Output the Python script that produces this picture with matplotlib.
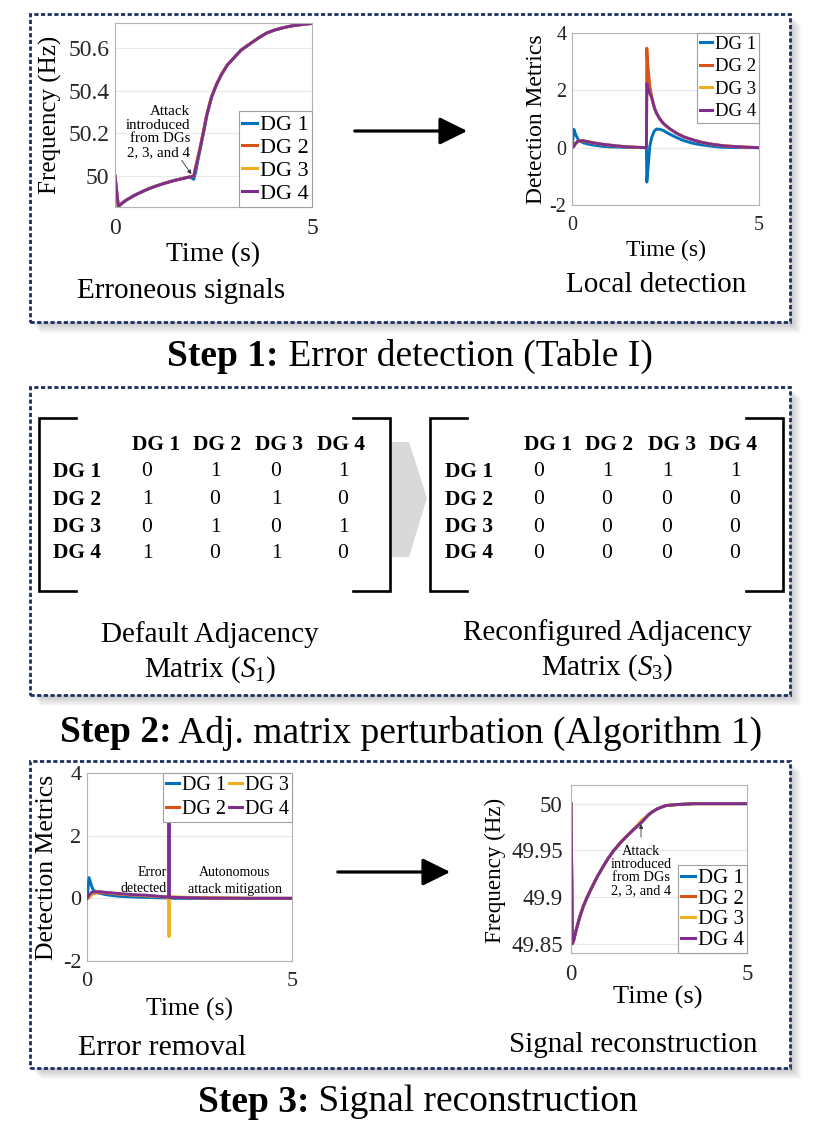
import matplotlib
matplotlib.use("Agg")
import matplotlib.pyplot as plt
from matplotlib.patches import Rectangle, Polygon, FancyArrowPatch
from matplotlib.lines import Line2D

plt.rcParams['font.family'] = ['Liberation Serif', 'DejaVu Serif']
plt.rcParams['mathtext.fontset'] = 'custom'
plt.rcParams['mathtext.rm'] = 'Liberation Serif'
plt.rcParams['mathtext.it'] = 'Liberation Serif:italic'
plt.rcParams['mathtext.bf'] = 'Liberation Serif:bold'

# ---------------- data ----------------
dg_labels = ['DG 1', 'DG 2', 'DG 3', 'DG 4']
dg_colors = ['#0072BD', '#D95319', '#EDB120', '#7E2F8E']

# Step 1 – erroneous frequency signals
t_freq1 = [0, 0.085, 0.12, 0.2, 0.3, 0.46, 0.6, 0.75, 0.89, 1.1, 1.31, 1.5, 1.73, 1.9, 2.0,
           2.05, 2.1, 2.16, 2.25, 2.33, 2.45, 2.58, 2.7, 2.85, 3.0, 3.2, 3.43, 3.65, 3.85,
           4.05, 4.27, 4.5, 4.75, 5.0]
freq1_dg4 = [50.0, 49.856, 49.863, 49.876, 49.889, 49.906, 49.919, 49.932, 49.943, 49.957, 49.969,
             49.979, 49.989, 49.996, 50.0, 50.04, 50.08, 50.13, 50.21, 50.286, 50.37, 50.43,
             50.475, 50.52, 50.55, 50.59, 50.62, 50.648, 50.67, 50.684, 50.695, 50.704, 50.71,
             50.715]
freq1_dg1 = [50.0, 49.856, 49.863, 49.876, 49.889, 49.906, 49.919, 49.932, 49.943, 49.957, 49.969,
             49.979, 49.989, 49.996, 49.985, 50.02, 50.07, 50.125, 50.205, 50.282, 50.368, 50.43,
             50.475, 50.52, 50.55, 50.59, 50.62, 50.648, 50.67, 50.684, 50.695, 50.704, 50.71,
             50.715]
freq1_dg2 = [50.0, 49.856, 49.863, 49.876, 49.889, 49.906, 49.919, 49.932, 49.943, 49.957, 49.969,
             49.979, 49.989, 49.996, 50.0, 50.045, 50.085, 50.135, 50.215, 50.29, 50.372, 50.432,
             50.476, 50.52, 50.55, 50.59, 50.62, 50.648, 50.67, 50.684, 50.695, 50.704, 50.71,
             50.716]
freq1_dg3 = list(freq1_dg2)

# Step 1 – local detection metrics
t_det1 = [0, 0.05, 0.1, 0.17, 0.3, 0.45, 0.57, 0.8, 1.0, 1.2, 1.46, 1.7, 1.99, 2.0, 2.02, 2.04,
          2.08, 2.13, 2.2, 2.26, 2.35, 2.44, 2.6, 2.8, 3.0, 3.24, 3.45, 3.69, 3.9, 4.1, 4.35,
          4.6, 5.0]
det1_dg1 = [0, 0.64, 0.45, 0.27, 0.17, 0.12, 0.09, 0.05, 0.03, 0.02, 0.01, 0.005, 0.0, -1.2, -0.9,
            -0.6, 0.05, 0.35, 0.58, 0.65, 0.64, 0.6, 0.48, 0.35, 0.24, 0.15, 0.1, 0.06, 0.03,
            0.01, 0.005, 0.0, 0.0]
det1_dg2 = [0, 0.05, 0.15, 0.24, 0.24, 0.2, 0.17, 0.12, 0.09, 0.06, 0.03, 0.015, 0.0, 3.47, 3.0,
            2.7, 2.15, 1.78, 1.4, 1.2, 1.0, 0.85, 0.67, 0.5, 0.37, 0.27, 0.19, 0.13, 0.09, 0.06,
            0.04, 0.02, 0.0]
det1_dg3 = [0, 0.05, 0.15, 0.24, 0.24, 0.2, 0.17, 0.12, 0.09, 0.06, 0.03, 0.015, 0.0, 2.24, 2.15,
            2.05, 1.9, 1.75, 1.4, 1.2, 1.0, 0.85, 0.67, 0.5, 0.37, 0.27, 0.19, 0.13, 0.09, 0.06,
            0.04, 0.02, 0.0]
det1_dg4 = list(det1_dg3)

# Step 2 – adjacency matrices
S1 = [[0, 1, 0, 1],
      [1, 0, 1, 0],
      [0, 1, 0, 1],
      [1, 0, 1, 0]]
S3 = [[0, 1, 1, 1],
      [0, 0, 0, 0],
      [0, 0, 0, 0],
      [0, 0, 0, 0]]

# Step 3 – error removal metrics
t_det3 = [0, 0.05, 0.11, 0.15, 0.22, 0.32, 0.45, 0.64, 0.8, 1.0, 1.2, 1.46, 1.7, 1.99, 2.0, 2.01,
          2.1, 2.5, 3.0, 3.5, 4.0, 5.0]
det3_dg1 = [0, 0.66, 0.4, 0.27, 0.2, 0.16, 0.12, 0.085, 0.065, 0.05, 0.04, 0.03, 0.02, 0.01, 0.01,
            0.01, 0.0, 0.0, 0.0, 0.0, 0.0, 0.0]
det3_dg2 = [0, 0.03, 0.12, 0.15, 0.17, 0.18, 0.17, 0.15, 0.13, 0.11, 0.1, 0.08, 0.06, 0.04, 0.04,
            0.04, 0.03, 0.02, 0.01, 0.005, 0.0, 0.0]
det3_dg3 = [0, 0.03, 0.1, 0.18, 0.2, 0.21, 0.19, 0.16, 0.14, 0.12, 0.1, 0.085, 0.06, 0.04, -1.22,
            0.05, 0.05, 0.03, 0.02, 0.01, 0.0, 0.0]
det3_dg4 = [0, 0.1, 0.19, 0.2, 0.21, 0.21, 0.19, 0.17, 0.15, 0.13, 0.11, 0.1, 0.07, 0.04, 3.6,
            0.03, 0.03, 0.02, 0.01, 0.005, 0.0, 0.0]

# Step 3 – reconstructed frequency
t_freq3 = [0, 0.04, 0.08, 0.11, 0.15, 0.2, 0.26, 0.35, 0.45, 0.55, 0.63, 0.75, 0.92, 1.05, 1.2,
           1.4, 1.58, 1.8, 2.0, 2.1, 2.2, 2.3, 2.43, 2.55, 2.7, 3.0, 3.5, 4.0, 5.0]
freq3_dg1 = [50.0, 49.85, 49.854, 49.859, 49.865, 49.872, 49.88, 49.89, 49.899, 49.907, 49.913,
             49.922, 49.933, 49.941, 49.949, 49.958, 49.965, 49.973, 49.98, 49.984, 49.988,
             49.991, 49.994, 49.996, 49.998, 49.999, 50.0, 50.0, 50.0]
freq3_dg2 = list(freq3_dg1)
freq3_dg3 = [50.0, 49.85, 49.854, 49.859, 49.865, 49.872, 49.88, 49.89, 49.899, 49.907, 49.913,
             49.922, 49.933, 49.941, 49.949, 49.958, 49.965, 49.973, 49.982, 49.985, 49.988,
             49.991, 49.994, 49.996, 49.998, 49.999, 50.0, 50.0, 50.0]
freq3_dg4 = list(freq3_dg1)

# ---------------- figure ----------------
W, H = 832, 1124
fig = plt.figure(figsize=(W / 100, H / 100), dpi=100)
fig.patch.set_facecolor('white')

def fx(x):
    return x / W

def fy(y):
    return 1 - y / H

def add_ax(x0, y0, x1, y1):
    return fig.add_axes([x0 / W, 1 - y1 / H, (x1 - x0) / W, (y1 - y0) / H])

NAVY = '#1b2f63'

def panel(x0, y0, x1, y1):
    for k in range(2, 12):
        fig.patches.append(Rectangle((fx(x0 + k), fy(y1 + k)), (x1 - x0) / W, (y1 - y0) / H,
                                     transform=fig.transFigure, facecolor='#7a7a7a',
                                     edgecolor='none', alpha=0.045, zorder=-6))
    fig.patches.append(Rectangle((fx(x0), fy(y1)), (x1 - x0) / W, (y1 - y0) / H,
                                 transform=fig.transFigure, facecolor='white',
                                 edgecolor='none', zorder=-5))
    fig.patches.append(Rectangle((fx(x0), fy(y1)), (x1 - x0) / W, (y1 - y0) / H,
                                 transform=fig.transFigure, facecolor='none',
                                 edgecolor=NAVY, lw=2.0, linestyle=(0, (1.5, 0.9)),
                                 capstyle='butt', zorder=-4))

panel(30, 14, 790, 322)
panel(30, 387, 790, 695)
panel(30, 761, 790, 1068)

def txt(x, y, s, size, **kw):
    kw.setdefault('ha', 'center')
    kw.setdefault('va', 'center')
    return fig.text(fx(x), fy(y), s, fontsize=size, **kw)

def style(ax, ylim, yticks, yticklabels, fs, xpad=8, ypad=4):
    ax.set_xlim(0, 5)
    ax.set_ylim(*ylim)
    ax.set_xticks([0, 5])
    ax.set_xticklabels(['0', '5'])
    ax.set_yticks(yticks)
    ax.set_yticklabels(yticklabels)
    for s in ax.spines.values():
        s.set_color('#b3b3b3')
        s.set_linewidth(0.8)
    ax.tick_params(axis='both', length=0, labelsize=fs, colors='#262626')
    ax.tick_params(axis='x', pad=xpad)
    ax.tick_params(axis='y', pad=ypad)
    ax.grid(axis='y', color='#e8e8e8', lw=0.8)
    ax.set_axisbelow(True)

def arrow(x0, x1, y):
    fig.patches.append(FancyArrowPatch((fx(x0), fy(y)), (fx(x1), fy(y)),
                                       transform=fig.transFigure,
                                       arrowstyle='-|>,head_length=0.85,head_width=0.42',
                                       mutation_scale=20, lw=2.3, color='black'))

def legend(ax, loc, fs, ncol=1, labelspacing=0.1, **kw):
    lg = ax.legend(loc=loc, fontsize=fs, ncol=ncol, frameon=True, fancybox=False,
                   edgecolor='#a0a0a0', framealpha=1, borderaxespad=0,
                   handlelength=0.65, handletextpad=0.15, borderpad=0.15,
                   labelspacing=labelspacing, **kw)
    lg.get_frame().set_linewidth(0.8)
    for h in lg.get_lines():
        h.set_linewidth(2.2)
    return lg

def two_part(xc, y, bold, rest, size):
    r = fig.canvas.get_renderer()
    t1 = fig.text(0, fy(y), bold, fontsize=size, weight='bold', va='center', ha='left')
    t2 = fig.text(0, fy(y), rest, fontsize=size, va='center', ha='left')
    w1 = t1.get_window_extent(r).width
    w2 = t2.get_window_extent(r).width
    x0 = xc - (w1 + w2) / 2
    t1.set_x(fx(x0))
    t2.set_x(fx(x0 + w1))

LW = 2.1

# ---- Step 1 left: erroneous signals ----
ax1 = add_ax(115, 23, 312, 207)
for vals, c, lab in zip([freq1_dg1, freq1_dg2, freq1_dg3, freq1_dg4], dg_colors, dg_labels):
    ax1.plot(t_freq1, vals, color=c, lw=LW, label=lab, solid_joinstyle='round')
style(ax1, (49.855, 50.717), [50.0, 50.2, 50.4, 50.6], ['50', '50.2', '50.4', '50.6'], 17)
legend(ax1, 'lower right', 16)
txt(190, 132, 'Attack\nintroduced\nfrom DGs\n2, 3, and 4', 10.8, ha='right', linespacing=1.05)
ax1.annotate('', xy=(1.98, 49.998), xycoords='data', xytext=(fx(180), fy(158)),
             textcoords='figure fraction',
             arrowprops=dict(arrowstyle='-|>', color='#333333', lw=0.6, mutation_scale=6))
txt(50, 115, 'Frequency (Hz)', 18, rotation=90)
txt(213, 255, 'Time (s)', 20)
txt(181, 291, 'Erroneous signals', 21)

arrow(352, 470, 131)

# ---- Step 1 right: local detection ----
ax2 = add_ax(572, 33, 759, 205)
for vals, c, lab in zip([det1_dg1, det1_dg2, det1_dg3, det1_dg4], dg_colors, dg_labels):
    ax2.plot(t_det1, vals, color=c, lw=LW, label=lab, solid_joinstyle='round')
style(ax2, (-2, 4), [-2, 0, 2, 4], ['-2', '0', '2', '4'], 14.5)
legend(ax2, 'upper right', 13.5, labelspacing=0.28)
txt(537, 119, 'Detection Metrics', 17, rotation=90)
txt(666, 250, 'Time (s)', 17)
txt(656, 285, 'Local detection', 21)

two_part(410, 356, 'Step 1:', ' Error detection (Table I)', 27)

# ---- Step 2: adjacency matrices ----
fig.patches.append(Polygon([(fx(392), fy(442)), (fx(409), fy(442)), (fx(427), fy(498)),
                            (fx(409), fy(557)), (fx(392), fy(557))], closed=True,
                           transform=fig.transFigure, facecolor='#d9d9d9',
                           edgecolor='none', zorder=-3))

def bracket(xv, xf, ytop, ybot):
    fig.lines.append(Line2D([fx(xf), fx(xv), fx(xv), fx(xf)],
                            [fy(ytop), fy(ytop), fy(ybot), fy(ybot)],
                            transform=fig.transFigure, color='black', lw=1.9,
                            solid_joinstyle='miter'))

def matrix(M, hdr_x, val_x, row_x, br):
    for j, lab in enumerate(dg_labels):
        txt(hdr_x[j], 445, lab, 15.5, weight='bold')
    row_y = [472, 500, 527, 553]
    for i, lab in enumerate(dg_labels):
        txt(row_x, row_y[i], lab, 15.5, weight='bold', ha='left')
        for j in range(4):
            txt(val_x[j], row_y[i], str(M[i][j]), 15.5)
    bracket(br[0], br[0] + 37, 418, 591)
    bracket(br[1], br[1] - 37, 418, 591)

matrix(S1, [156, 217, 279, 341], [147, 215, 276, 343], 53, (39, 390))
matrix(S3, [548, 609, 672, 733], [539, 607, 667, 735], 445, (430, 783))

txt(210, 635, 'Default Adjacency', 21)
txt(210, 670, r'Matrix ($S_1$)', 21)
txt(607, 633, 'Reconfigured Adjacency', 21)
txt(607, 668, r'Matrix ($S_3$)', 21)

two_part(411, 733, 'Step 2:', ' Adj. matrix perturbation (Algorithm 1)', 27)

# ---- Step 3 left: error removal ----
ax5 = add_ax(87, 773, 292, 961)
for vals, c, lab in zip([det3_dg1, det3_dg2, det3_dg3, det3_dg4], dg_colors, dg_labels):
    ax5.plot(t_det3, vals, color=c, lw=LW, label=lab, zorder=3, solid_joinstyle='round')
style(ax5, (-2, 4), [-2, 0, 2, 4], ['-2', '0', '2', '4'], 16)
legend(ax5, 'upper right', 14.5, ncol=2, labelspacing=0.25, columnspacing=0.15)
ax5.text(fx(167), fy(873), 'Error', fontsize=10, ha='right', va='center',
         transform=fig.transFigure, zorder=2)
ax5.text(fx(167), fy(889), 'detected', fontsize=10, ha='right', va='center',
         transform=fig.transFigure, zorder=2)
ax5.text(fx(235), fy(873), 'Autonomous', fontsize=10, ha='center', va='center',
         transform=fig.transFigure, zorder=2)
ax5.text(fx(235), fy(889), 'attack mitigation', fontsize=10, ha='center', va='center',
         transform=fig.transFigure, zorder=2)
txt(47, 867, 'Detection Metrics', 18.5, rotation=90)
txt(189, 1009, 'Time (s)', 18.5)
txt(162, 1048, 'Error removal', 21.5)

arrow(335, 453, 872)

# ---- Step 3 right: signal reconstruction ----
ax6 = add_ax(571, 785, 747, 953)
for vals, c, lab in zip([freq3_dg1, freq3_dg2, freq3_dg3, freq3_dg4], dg_colors, dg_labels):
    ax6.plot(t_freq3, vals, color=c, lw=LW, label=lab, solid_joinstyle='round')
style(ax6, (49.84, 50.02), [49.85, 49.9, 49.95, 50.0], ['49.85', '49.9', '49.95', '50'], 16.5,
      ypad=6)
legend(ax6, 'lower right', 15, labelspacing=0.05)
txt(641, 871, 'Attack\nintroduced\nfrom DGs\n2, 3, and 4', 10.4, linespacing=1.0)
ax6.annotate('', xy=(1.99, 49.981), xycoords='data', xytext=(fx(641), fy(840)),
             textcoords='figure fraction',
             arrowprops=dict(arrowstyle='-|>', color='#333333', lw=0.6, mutation_scale=6))
txt(495, 870, 'Frequency (Hz)', 16.6, rotation=90)
txt(658, 997, 'Time (s)', 19)
txt(633, 1045, 'Signal reconstruction', 21)

two_part(418, 1102, 'Step 3:', ' Signal reconstruction', 27)

fig.savefig('out.png', dpi=100, facecolor='white')
